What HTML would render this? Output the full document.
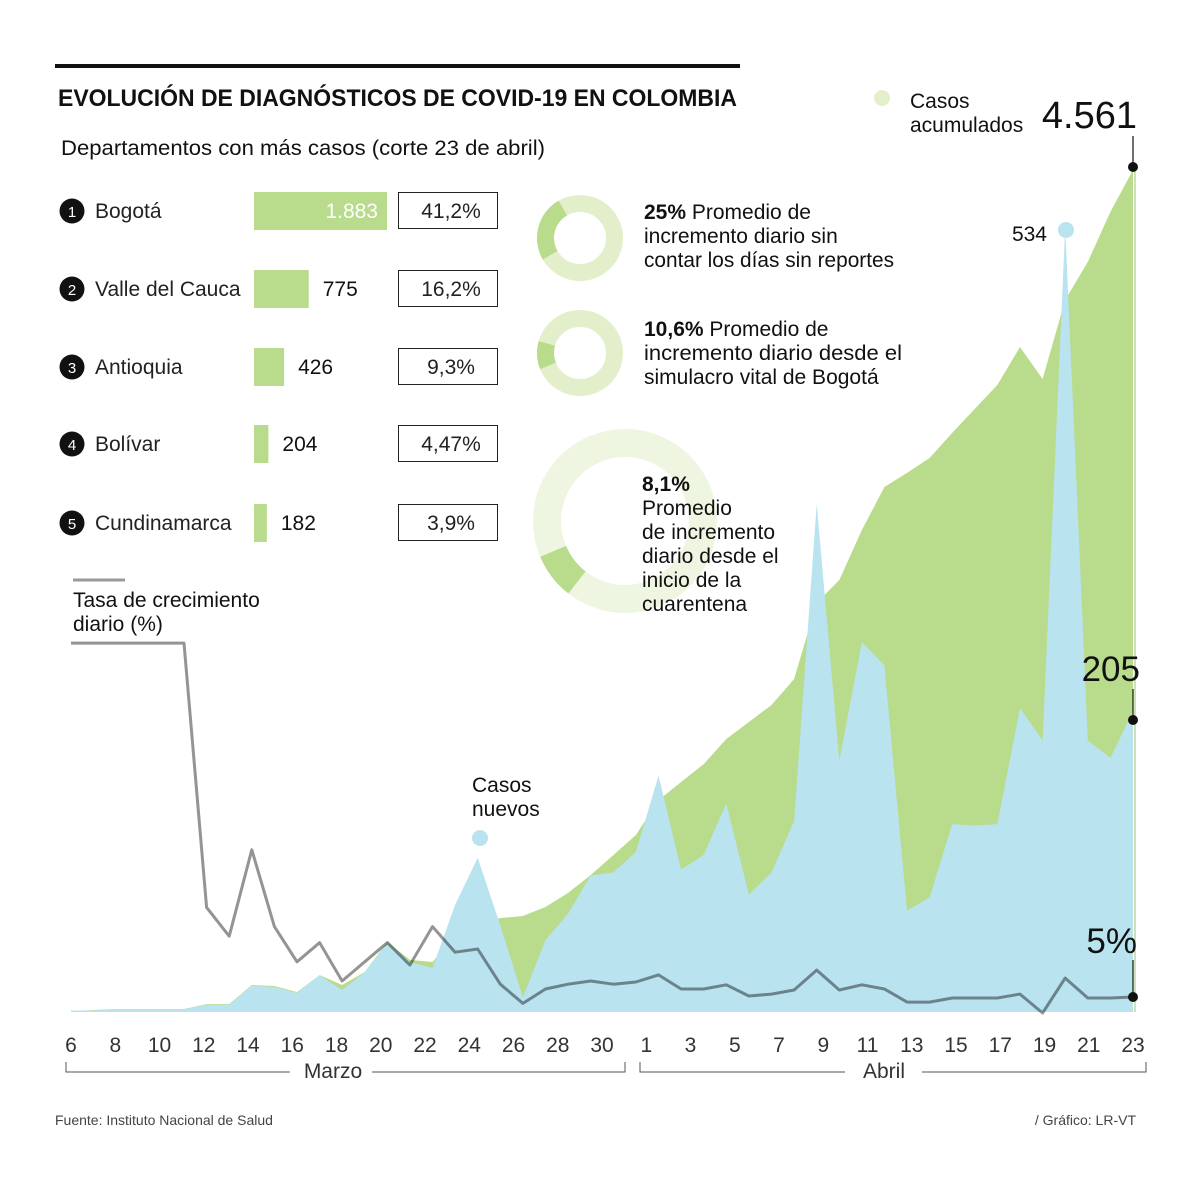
<!DOCTYPE html>
<html><head><meta charset="utf-8"><style>
html,body{margin:0;padding:0;background:#fff;}
svg{display:block;font-family:"Liberation Sans",sans-serif;}
</style></head><body>
<svg id="chart" width="1200" height="1179" viewBox="0 0 1200 1179">
<rect x="0" y="0" width="1200" height="1179" fill="#fff"/>
<rect x="55" y="64" width="685" height="4" fill="#111"/>
<text x="58" y="106" font-size="24" font-weight="bold" fill="#111" textLength="679" lengthAdjust="spacingAndGlyphs">EVOLUCIÓN DE DIAGNÓSTICOS DE COVID-19 EN COLOMBIA</text>
<text x="61" y="155" font-size="21" fill="#111" textLength="484" lengthAdjust="spacingAndGlyphs">Departamentos con más casos (corte 23 de abril)</text>

<g id="ranking"></g>

<!-- donuts -->
<g>
<circle cx="580" cy="238" r="34.5" fill="none" stroke="#e3efcb" stroke-width="17"/>
<circle cx="580" cy="238" r="34.5" fill="none" stroke="#b9db8c" stroke-width="17" stroke-dasharray="54.2 300" transform="rotate(150 580 238)"/>
</g>
<g>
<circle cx="580" cy="353" r="34.5" fill="none" stroke="#e3efcb" stroke-width="17"/>
<circle cx="580" cy="353" r="34.5" fill="none" stroke="#b9db8c" stroke-width="17" stroke-dasharray="23 300" transform="rotate(158 580 353)"/>
</g>
<g>
<circle cx="625" cy="521" r="78" fill="none" stroke="#eef5e0" stroke-width="28"/>
<circle cx="625" cy="521" r="78" fill="none" stroke="#b9db8c" stroke-width="28" stroke-dasharray="39.7 600" transform="rotate(128 625 521)"/>
</g>
<g font-size="21" fill="#111">
<text x="644" y="219"><tspan font-weight="bold">25%</tspan> Promedio de</text>
<text x="644" y="243">incremento diario sin</text>
<text x="644" y="267" textLength="250" lengthAdjust="spacingAndGlyphs">contar los días sin reportes</text>
<text x="644" y="336"><tspan font-weight="bold">10,6%</tspan> Promedio de</text>
<text x="644" y="360" textLength="258" lengthAdjust="spacingAndGlyphs">incremento diario desde el</text>
<text x="644" y="384">simulacro vital de Bogotá</text>
<text x="642" y="491" font-weight="bold">8,1%</text>
<text x="642" y="515">Promedio</text>
<text x="642" y="539">de incremento</text>
<text x="642" y="563">diario desde el</text>
<text x="642" y="587">inicio de la</text>
<text x="642" y="611">cuarentena</text>
</g>

<g id="plot"></g>

<!-- legend / annotations -->
<circle cx="882" cy="98" r="8" fill="#e3efcb"/>
<text x="910" y="108" font-size="21" fill="#111">Casos</text>
<text x="910" y="132" font-size="21" fill="#111">acumulados</text>
<text x="1137" y="128" font-size="38" fill="#111" text-anchor="end">4.561</text>
<line x1="1133" y1="136" x2="1133" y2="167" stroke="#111" stroke-width="1.2"/>
<circle cx="1133" cy="167" r="5" fill="#111"/>
<text x="1047" y="241" font-size="21" fill="#111" text-anchor="end">534</text>
<circle cx="1066" cy="230" r="8" fill="#b9e3ef"/>
<text x="1140" y="681" font-size="35" fill="#111" text-anchor="end">205</text>
<line x1="1133" y1="689" x2="1133" y2="720" stroke="#111" stroke-width="1.2"/>
<circle cx="1133" cy="720" r="5" fill="#111"/>
<text x="1137" y="953" font-size="35" fill="#111" text-anchor="end">5%</text>
<line x1="1133" y1="960" x2="1133" y2="997" stroke="#111" stroke-width="1.2"/>
<circle cx="1133" cy="997" r="5" fill="#111"/>
<text x="472" y="792" font-size="21" fill="#111">Casos</text>
<text x="472" y="816" font-size="21" fill="#111">nuevos</text>
<circle cx="480" cy="838" r="8" fill="#b9e3ef"/>
<line x1="73" y1="580" x2="125" y2="580" stroke="#999" stroke-width="3"/>
<text x="73" y="607" font-size="21" fill="#111">Tasa de crecimiento</text>
<text x="73" y="631" font-size="21" fill="#111">diario (%)</text>

<g id="xaxis"></g>
<g stroke="#555" stroke-width="1" fill="none">
<path d="M66 1062 V1072 H290 M372 1072 H625 V1062"/>
<path d="M640 1062 V1072 H845 M922 1072 H1146 V1062"/>
</g>
<text x="333" y="1078" font-size="21" fill="#333" text-anchor="middle">Marzo</text>
<text x="884" y="1078" font-size="21" fill="#333" text-anchor="middle">Abril</text>
<text x="55" y="1125" font-size="14" fill="#444">Fuente:  Instituto Nacional de Salud</text>
<text x="1136" y="1125" font-size="14" fill="#444" text-anchor="end">/ Gráfico: LR-VT</text>
</svg>
<script>
// ranking data
const deptNames = ["Bogotá","Valle del Cauca","Antioquia","Bolívar","Cundinamarca"];
const deptCases = [1883,775,426,204,182];
const deptCaseLabels = ["1.883","775","426","204","182"];
const deptShares = ["41,2%","16,2%","9,3%","4,47%","3,9%"];

// time-series data (one point per reported day)
const dates = ["6-mar","7-mar","8-mar","9-mar","10-mar","11-mar","12-mar","13-mar","14-mar","15-mar","16-mar","17-mar","18-mar","19-mar","20-mar","21-mar","22-mar","23-mar","24-mar","25-mar","26-mar","27-mar","28-mar","29-mar","30-mar","1-abr","2-abr","3-abr","4-abr","5-abr","6-abr","7-abr","8-abr","9-abr","10-abr","11-abr","12-abr","13-abr","14-abr","15-abr","16-abr","17-abr","18-abr","19-abr","20-abr","21-abr","22-abr","23-abr"];
const cumulativeCases = [5,11,16,16,16,16,43,43,146,141,108,200,146,216,379,282,271,417,471,509,520,569,645,742,850,959,1148,1246,1343,1479,1571,1663,1804,2216,2340,2611,2844,2920,3001,3137,3267,3397,3602,3429,3857,4063,4334,4561];
const newCases = [1,1,2,2,2,2,5,5,18,17,13,25,15,27,47,34,30,73,105,59,10,49,67,93,95,109,161,97,107,142,80,95,130,346,171,252,236,69,78,128,127,128,207,185,534,185,173,205];
const growthRate = [115.6,115.6,115.6,115.6,115.6,115.6,33,24,51,27,16,22,10,16,22,15,27,19,20,9,3,7.5,9,10,9,9.7,11.9,7.5,7.5,8.8,5.3,5.9,7.2,13.4,7.2,8.8,7.5,3.4,3.4,4.7,4.7,4.7,5.9,0,10.9,4.7,4.7,5];

// axis tick labels (day numbers and days since 6 March)
const tickLabels = ["6","8","10","12","14","16","18","20","22","24","26","28","30","1","3","5","7","9","11","13","15","17","19","21","23"];
const tickDayOffsets = [0,2,4,6,8,10,12,14,16,18,20,22,24,26,28,30,32,34,36,38,40,42,44,46,48];

const NS = "http://www.w3.org/2000/svg";
function mk(tag, attrs, parent){const e=document.createElementNS(NS,tag);for(const k in attrs)e.setAttribute(k,attrs[k]);parent.appendChild(e);return e;}

// ranking
const rk = document.getElementById('ranking');
const rowY = [211,289,367,444,523];
const barScale = v => v/1883*133;
deptNames.forEach((n,i)=>{
  const y=rowY[i];
  const g=mk('g',{},rk);
  
  
  const c=mk('circle',{cx:72,cy:y,r:12.5,fill:'#111'},g);
  
  
  const ct=mk('text',{x:72,y:y+6,'font-size':15,fill:'#fff','text-anchor':'middle'},g);ct.textContent=String(i+1);
  
  
  const t=mk('text',{x:95,y:y+7,'font-size':21,fill:'#222'},g);t.textContent=n;
  
  
  const w=Math.max(barScale(deptCases[i]),12);
  const b=mk('rect',{x:254,y:y-19,width:w,height:38,fill:'#b9db8c'},g);
  
  
  let vt;
  if(i===0){vt=mk('text',{x:254+w-9,y:y+7,'font-size':21,fill:'#fff','text-anchor':'end'},g);}
  else{vt=mk('text',{x:254+w+14,y:y+7,'font-size':21,fill:'#111'},g);}
  vt.textContent=deptCaseLabels[i];
  
  
  const bx=mk('rect',{x:398.5,y:y-18.5,width:99,height:36,fill:'none',stroke:'#222','stroke-width':1},g);
  
  
  const st=mk('text',{x:451,y:y+7,'font-size':21,fill:'#222','text-anchor':'middle'},g);st.textContent=deptShares[i];
  
  
});

// chart scales
const x0=71, x1=1133, base=1012;
const xPt = i => x0 + i*(x1-x0)/(dates.length-1);
const yCum = v => base - v*(842/4561);
const yNew = v => base - v*(784/534);
const yRate = v => 1013 - v*3.2;
const xDay = d => 71 + d*(1133-71)/48;

const plot=document.getElementById('plot');
let dg='M'+xPt(0)+' '+base;
cumulativeCases.forEach((v,i)=>{dg+=' L'+xPt(i).toFixed(1)+' '+yCum(v).toFixed(1);});
dg+=' L'+xPt(dates.length-1)+' '+base+' Z';
const ag=mk('path',{d:dg,fill:'#b9db8c'},plot);


let db='M'+xPt(0)+' '+base;
newCases.forEach((v,i)=>{db+=' L'+xPt(i).toFixed(1)+' '+yNew(v).toFixed(1);});
db+=' L'+xPt(dates.length-1)+' '+base+' Z';
const ab=mk('path',{d:db,fill:'#b9e3ef'},plot);


let dl='';
growthRate.forEach((v,i)=>{dl+=(i?' L':'M')+xPt(i).toFixed(1)+' '+yRate(v).toFixed(1);});
const ln=mk('path',{d:dl,fill:'none',stroke:'#949494','stroke-width':3,'stroke-linejoin':'round',style:'mix-blend-mode:multiply'},plot);


const edge=mk('line',{x1:1135,y1:yCum(cumulativeCases[cumulativeCases.length-1]),x2:1135,y2:base,stroke:'#9cc070','stroke-width':1},plot);



// x axis
const xa=document.getElementById('xaxis');
tickLabels.forEach((l,i)=>{
  const t=mk('text',{x:xDay(tickDayOffsets[i]).toFixed(1),y:1052,'font-size':21,fill:'#333','text-anchor':'middle'},xa);
  t.textContent=l;
  
  
});
</script>
</body></html>
